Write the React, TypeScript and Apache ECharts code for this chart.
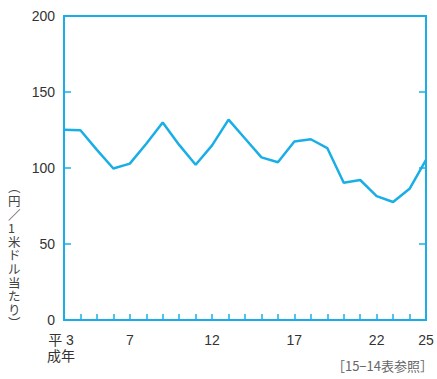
import React, { useEffect, useRef } from "react";
import * as echarts from "echarts";

const years = ["3","4","5","6","7","8","9","10","11","12","13","14","15","16","17","18","19","20","21","22","23","24","25"];
const rates = [125.2,124.8,111.9,99.7,102.9,116.0,129.9,115.2,102.1,114.9,131.8,119.4,107.0,103.8,117.5,118.9,113.1,90.3,92.1,81.5,77.6,86.3,105.4];
const shownLabels = ["3","7","12","17","22","25"];
const yAxisTitle = "︵円／1米ドル当たり︶";
const sourceNote = "［15−14表参照］";

const CYAN = "#1aaee6";

export default function App() {
  const ref = useRef<HTMLDivElement>(null);
  useEffect(() => {
    if (!ref.current) return;
    const chart = echarts.init(ref.current, undefined, { renderer: "svg" });
    chart.setOption({
      animation: false,
      grid: { left: 64, right: 11, top: 16, bottom: 59, show: true, borderColor: CYAN, borderWidth: 2, backgroundColor: "transparent" },
      xAxis: {
        type: "category",
        boundaryGap: false,
        data: years.map((y, i) => i === 0 ? { value: y, textStyle: { padding: [0, 6, 0, 0] } } : y),
        axisLine: { show: true, lineStyle: { color: CYAN, width: 2 } },
        axisTick: { show: true, inside: true, length: 6, interval: 0, lineStyle: { color: CYAN, width: 1.5 } },
        axisLabel: {
          interval: 0,
          margin: 12,
          color: "#333",
          fontSize: 14,
          fontFamily: "Liberation Sans, Noto Sans CJK JP",
          lineHeight: 16,
          formatter: (v: string) => {
            if (v === "3") return "平 3\n成年";
            return shownLabels.includes(v) ? v : "";
          },
        },
        splitLine: { show: false },
      },
      yAxis: [
        {
          type: "value",
          min: 0,
          max: 200,
          interval: 50,
          axisLine: { show: true, lineStyle: { color: CYAN, width: 2 } },
          axisTick: { show: true, inside: true, length: 7, lineStyle: { color: CYAN, width: 1.5 } },
          axisLabel: { color: "#333", fontSize: 14, margin: 9, fontFamily: "Liberation Sans" },
          splitLine: { show: false },
        },
        {
          type: "value",
          position: "right",
          min: 0,
          max: 200,
          interval: 50,
          axisLine: { show: true, lineStyle: { color: CYAN, width: 2 } },
          axisTick: { show: true, inside: true, length: 7, lineStyle: { color: CYAN, width: 1.5 } },
          axisLabel: { show: false },
          splitLine: { show: false },
        },
      ],
      series: [
        {
          type: "line",
          data: rates,
          symbol: "none",
          lineStyle: { color: CYAN, width: 2.5 },
          yAxisIndex: 0,
        },
      ],
      graphic: [
        {
          type: "text",
          left: 8,
          top: 180,
          style: {
            text: yAxisTitle.split("").join("\n"),
            fill: "#444",
            fontSize: 12.5,
            lineHeight: 13.6,
            align: "center",
            fontFamily: "Noto Sans CJK JP",
          },
        },
        {
          type: "text",
          right: 4,
          top: 359,
          style: {
            text: sourceNote,
            fill: "#666",
            fontSize: 13,
            fontFamily: "Noto Sans CJK JP",
          },
        },
      ],
    });
    return () => chart.dispose();
  }, []);
  return <div ref={ref} style={{ width: 437, height: 379, position: "absolute", left: 0, top: 0 }} />;
}
